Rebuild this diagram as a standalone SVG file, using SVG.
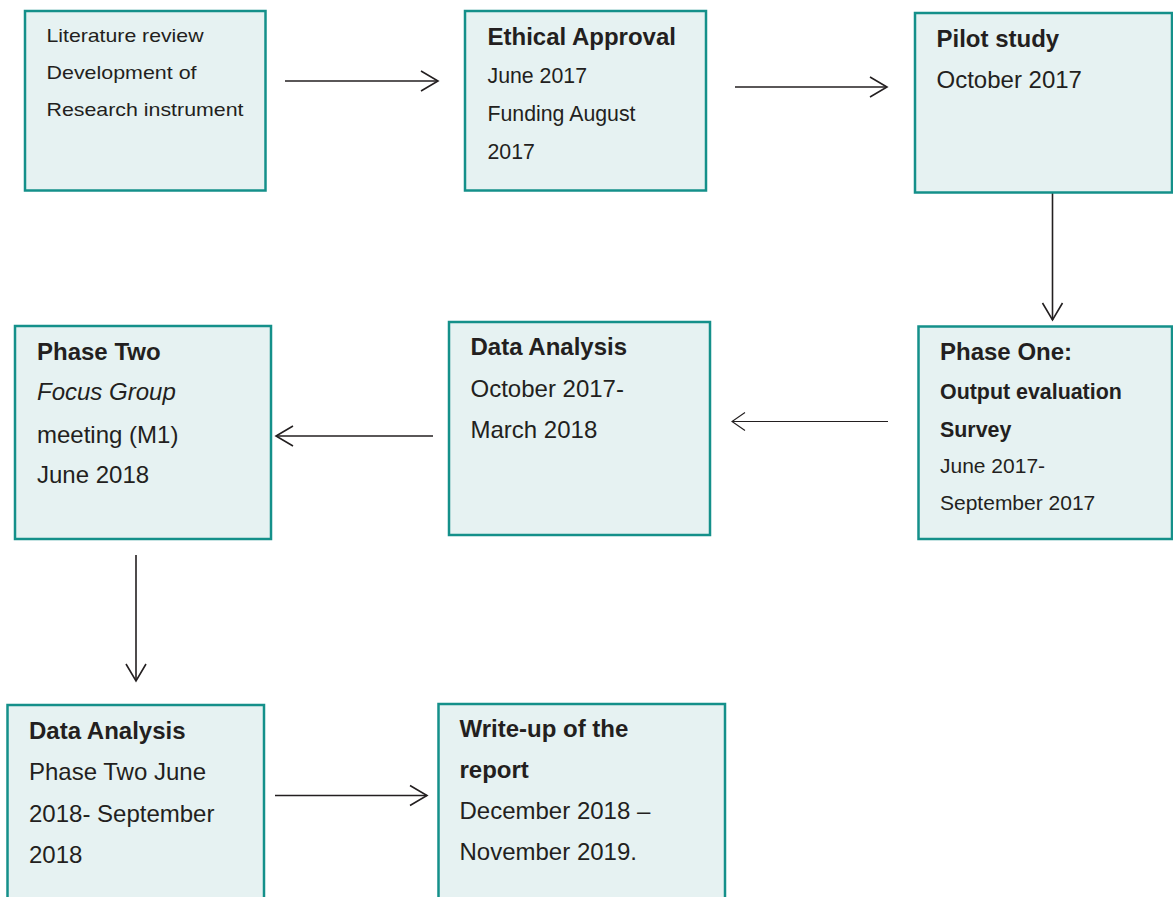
<svg xmlns="http://www.w3.org/2000/svg" width="1173" height="897" viewBox="0 0 1173 897">
<style>
.box{fill:#e6f2f2;stroke:#14908a;stroke-width:2.5}
text{font-family:"Liberation Sans",Arial,sans-serif;fill:#231f20;font-size:24px}
.b{font-weight:bold}
.bs{font-weight:bold;font-size:21.4px}
.i{font-style:italic}
.m{font-size:21.3px}
.s{font-size:21px}
.t{font-size:18.5px}
.c{fill:none;stroke:#231f20;stroke-width:1.6}
.thin{stroke-width:1.1}
</style>
<defs>
<marker id="ah" markerUnits="userSpaceOnUse" viewBox="-20 -12 22 24" refX="0" refY="0" markerWidth="22" markerHeight="24" orient="auto">
<path d="M-17,-10 L0,0 L-17,10" fill="none" stroke="#231f20" stroke-width="1.6"/>
</marker>
<marker id="ahs" markerUnits="userSpaceOnUse" viewBox="-16 -12 18 24" refX="0" refY="0" markerWidth="18" markerHeight="24" orient="auto">
<path d="M-13,-9 L0,0 L-13,9" fill="none" stroke="#231f20" stroke-width="1.1"/>
</marker>
</defs>
<g id="connectors">
<line class="c" x1="285" y1="81" x2="438" y2="81" marker-end="url(#ah)"/>
<line class="c" x1="735" y1="87" x2="887" y2="87" marker-end="url(#ah)"/>
<line class="c" x1="1052.5" y1="193" x2="1052.5" y2="320" marker-end="url(#ah)"/>
<line class="c thin" x1="888" y1="421.5" x2="732" y2="421.5" marker-end="url(#ahs)"/>
<line class="c" x1="433" y1="436" x2="276" y2="436" marker-end="url(#ah)"/>
<line class="c" x1="136" y1="555" x2="136" y2="681" marker-end="url(#ah)"/>
<line class="c" x1="275" y1="795.5" x2="427" y2="795.5" marker-end="url(#ah)"/>
</g>
<g id="n1">
<rect class="box" x="25" y="11" width="240.5" height="179.5"/>
<text class="t" x="46.5" y="42" textLength="157" lengthAdjust="spacingAndGlyphs">Literature review</text>
<text class="t" x="46.5" y="79" textLength="150" lengthAdjust="spacingAndGlyphs">Development of</text>
<text class="t" x="46.5" y="116" textLength="197" lengthAdjust="spacingAndGlyphs">Research instrument</text>
</g>
<g id="n2">
<rect class="box" x="465" y="11" width="241" height="179.5"/>
<text class="b" x="487.5" y="45">Ethical Approval</text>
<text class="m" x="487.5" y="83">June 2017</text>
<text class="m" x="487.5" y="121">Funding August</text>
<text class="m" x="487.5" y="159">2017</text>
</g>
<g id="n3">
<rect class="box" x="915" y="13" width="257" height="179.5"/>
<text class="b" x="936.5" y="47">Pilot study</text>
<text x="936.5" y="88">October 2017</text>
</g>
<g id="n4">
<rect class="box" x="918.5" y="326.5" width="253.5" height="212.5"/>
<text class="b" x="940" y="360">Phase One:</text>
<text class="bs" x="940" y="399">Output evaluation</text>
<text class="bs" x="940" y="436.5">Survey</text>
<text class="s" x="940" y="473">June 2017-</text>
<text class="s" x="940" y="509.5">September 2017</text>
</g>
<g id="n5">
<rect class="box" x="449" y="322" width="261" height="213"/>
<text class="b" x="470.5" y="355">Data Analysis</text>
<text x="470.5" y="397">October 2017-</text>
<text x="470.5" y="438">March 2018</text>
</g>
<g id="n6">
<rect class="box" x="15" y="326" width="256" height="213"/>
<text class="b" x="37" y="360">Phase Two</text>
<text class="i" x="37" y="400">Focus Group</text>
<text x="37" y="442.5">meeting (M1)</text>
<text x="37" y="483">June 2018</text>
</g>
<g id="n7">
<rect class="box" x="7.5" y="705" width="256.5" height="200"/>
<text class="b" x="29" y="739">Data Analysis</text>
<text x="29" y="780">Phase Two June</text>
<text x="29" y="822">2018- September</text>
<text x="29" y="863">2018</text>
</g>
<g id="n8">
<rect class="box" x="438.5" y="704" width="286.5" height="200"/>
<text class="b" x="459.5" y="737">Write-up of the</text>
<text class="b" x="459.5" y="778">report</text>
<text x="459.5" y="819">December 2018 –</text>
<text x="459.5" y="860">November 2019.</text>
</g>
</svg>
